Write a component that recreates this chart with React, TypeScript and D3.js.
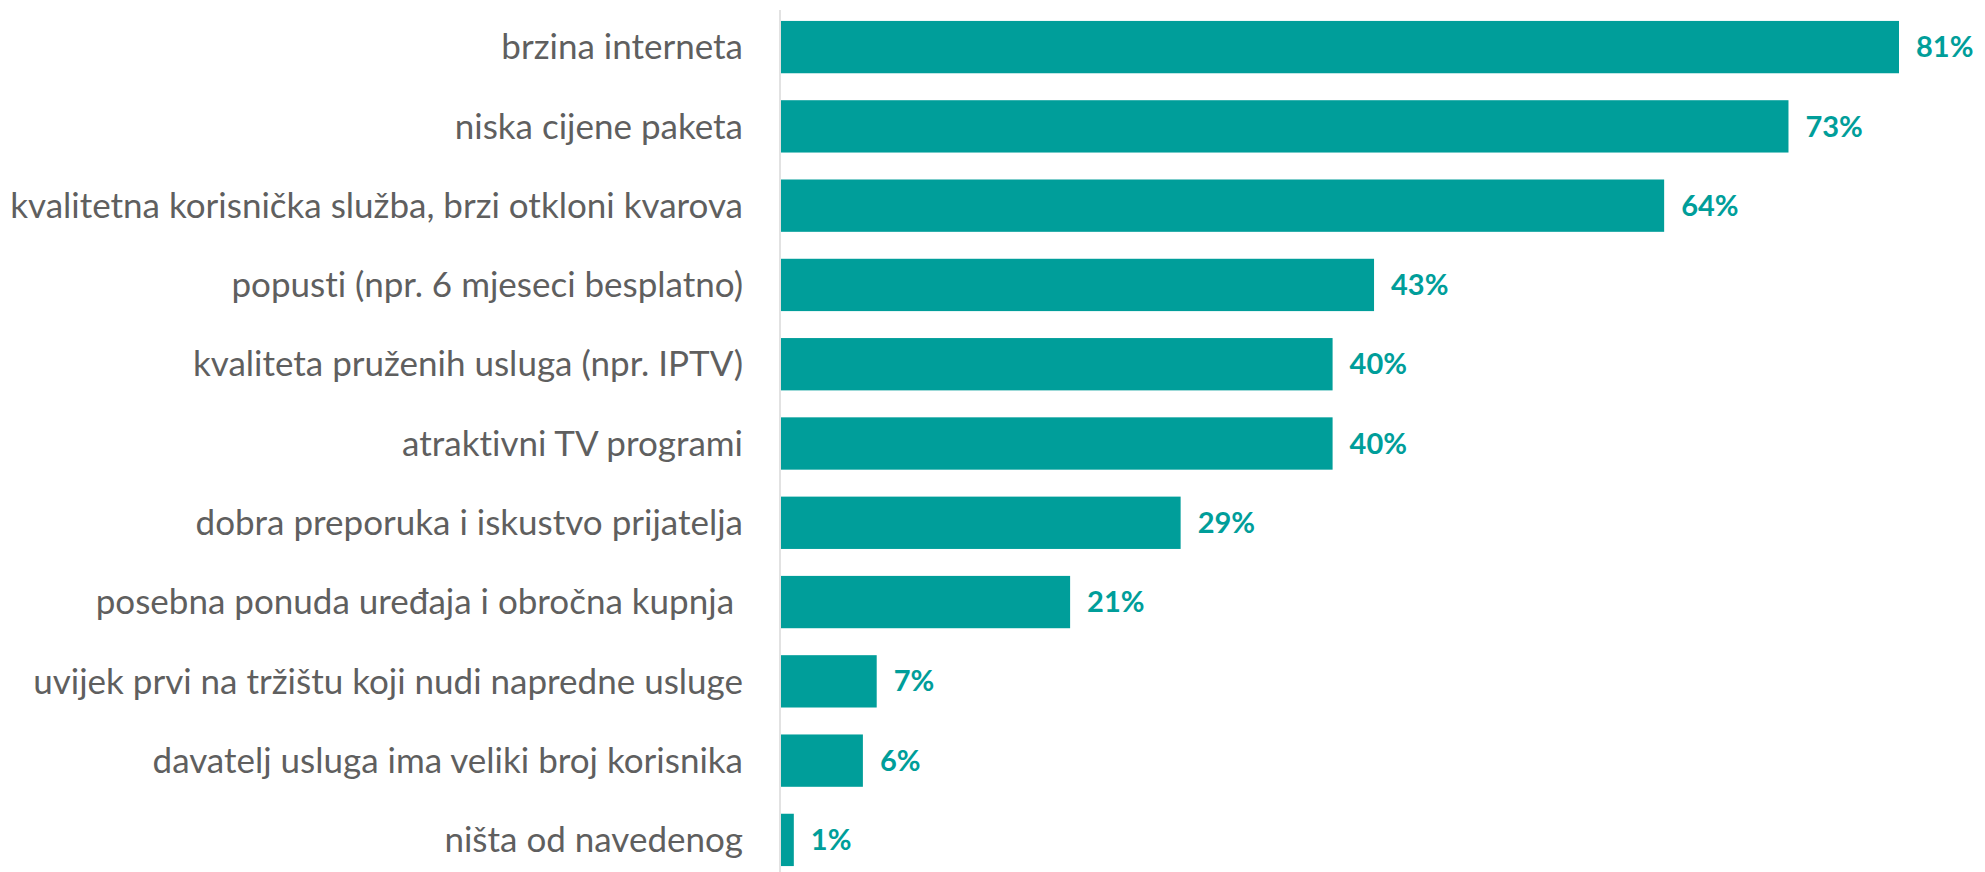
import React, { useEffect, useRef } from 'react'
import * as d3 from 'd3'

const categories = [
  'brzina interneta',
  'niska cijene paketa',
  'kvalitetna korisnička služba, brzi otkloni kvarova',
  'popusti (npr. 6 mjeseci besplatno)',
  'kvaliteta pruženih usluga (npr. IPTV)',
  'atraktivni TV programi',
  'dobra preporuka i iskustvo prijatelja',
  'posebna ponuda uređaja i obročna kupnja ',
  'uvijek prvi na tržištu koji nudi napredne usluge',
  'davatelj usluga ima veliki broj korisnika',
  'ništa od navedenog',
]
const values = [81, 73, 64, 43, 40, 40, 29, 21, 7, 6, 1]

const W = 1985
const H = 872

const App = () => {
  const ref = useRef<SVGSVGElement>(null)

  useEffect(() => {
    const svg = d3.select(ref.current)
    svg.selectAll('*').remove()

    const left = 780
    const x = d3.scaleLinear().domain([0, 81]).range([left, 1899])
    const y = d3
      .scaleBand()
      .domain(categories)
      .range([13, 874])
      .paddingInner(0.34)
      .paddingOuter(0.1)

    const data = categories.map((c, i) => ({ c, v: values[i] }))

    // vertical axis line
    svg
      .append('line')
      .attr('x1', left)
      .attr('x2', left)
      .attr('y1', 10)
      .attr('y2', H)
      .style('stroke', '#d9d9d9')
      .style('stroke-width', 1.5)

    svg
      .append('g')
      .selectAll('rect')
      .data(data)
      .join('rect')
      .attr('x', left + 1)
      .attr('y', (d) => y(d.c)!)
      .attr('width', (d) => x(d.v) - left - 1)
      .attr('height', y.bandwidth())
      .attr('fill', '#009e9a')

    svg
      .append('g')
      .selectAll('text')
      .data(data)
      .join('text')
      .attr('x', left - 37)
      .attr('y', (d) => y(d.c)! + y.bandwidth() / 2)
      .attr('dy', '0.35em')
      .attr('text-anchor', 'end')
      .style('font-family', 'Lato, sans-serif')
      .style('font-size', '35px')
      .style('font-variant-ligatures', 'none')
      .style('fill', '#5f5f5f')
      .style('white-space', 'pre')
      .text((d) => d.c)

    svg
      .append('g')
      .selectAll('text')
      .data(data)
      .join('text')
      .attr('x', (d) => x(d.v) + 17)
      .attr('y', (d) => y(d.c)! + y.bandwidth() / 2)
      .attr('dy', '0.35em')
      .style('font-family', 'Lato, sans-serif')
      .style('font-size', '29px')
      .style('font-weight', 'bold')
      .style('fill', '#009e9a')
      .text((d) => d.v + '%')
  }, [])

  return (
    <svg
      ref={ref}
      width={W}
      height={H}
      style={{ position: 'absolute', left: 0, top: 0, background: '#fff' }}
    />
  )
}

export default App
